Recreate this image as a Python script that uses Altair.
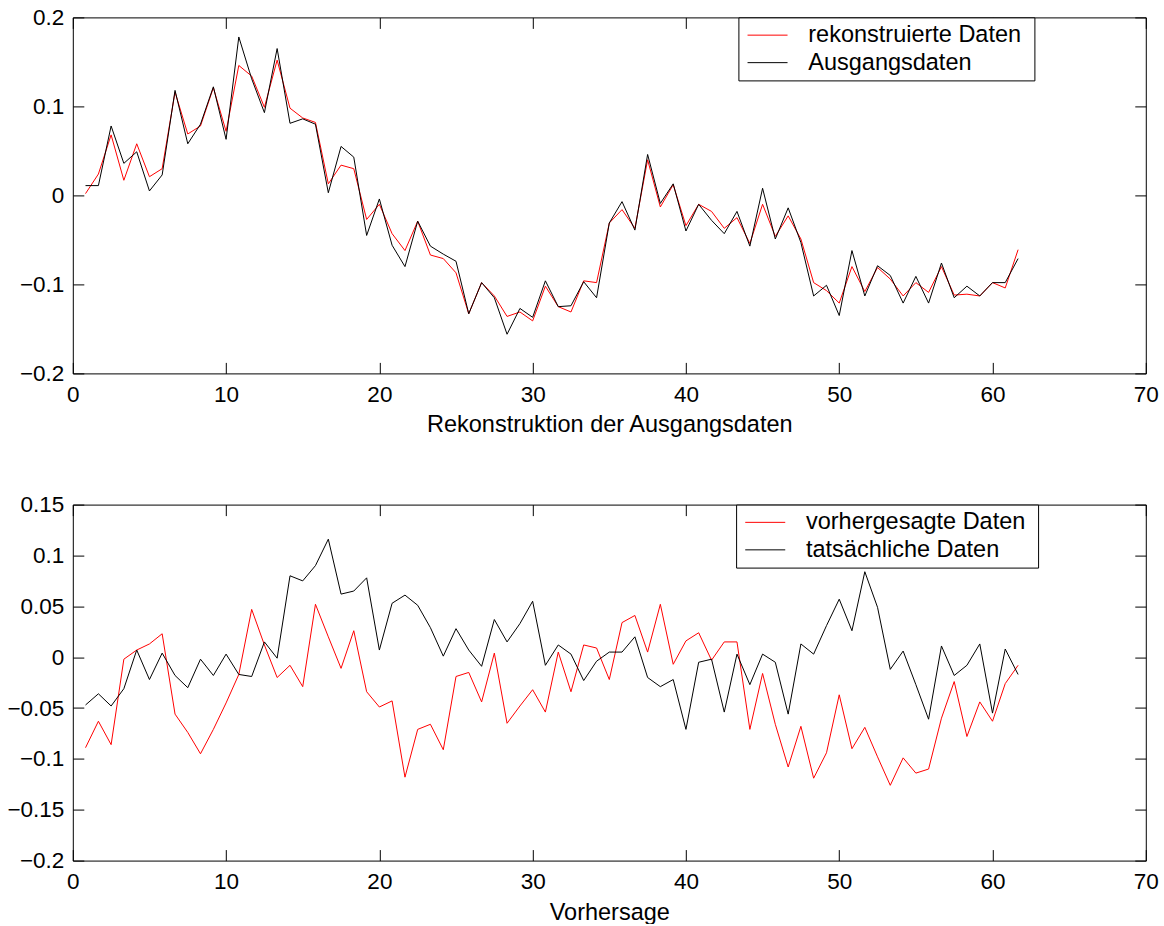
import altair as alt
import pandas as pd

FONT = "Liberation Sans"

x_vals = [0.83, 1.67, 2.5, 3.33, 4.17, 5.0, 5.83, 6.67, 7.5, 8.33,
          9.17, 10.0, 10.83, 11.67, 12.5, 13.33, 14.17, 15.0, 15.83, 16.67,
          17.5, 18.33, 19.17, 20.0, 20.83, 21.67, 22.5, 23.33, 24.17, 25.0,
          25.83, 26.67, 27.5, 28.33, 29.17, 30.0, 30.83, 31.67, 32.5, 33.33,
          34.17, 35.0, 35.83, 36.67, 37.5, 38.33, 39.17, 40.0, 40.83, 41.67,
          42.5, 43.33, 44.17, 45.0, 45.83, 46.67, 47.5, 48.33, 49.17, 50.0,
          50.83, 51.67, 52.5, 53.33, 54.17, 55.0, 55.83, 56.67, 57.5, 58.33,
          59.17, 60.0, 60.83, 61.67]

top_red = [0.002, 0.024, 0.068, 0.017, 0.058, 0.021, 0.030, 0.116, 0.069, 0.078,
           0.121, 0.072, 0.146, 0.134, 0.099, 0.152, 0.098, 0.087, 0.082, 0.013,
           0.034, 0.030, -0.027, -0.010, -0.043, -0.062, -0.029, -0.067, -0.071, -0.087,
           -0.133, -0.098, -0.113, -0.136, -0.131, -0.141, -0.102, -0.125, -0.131, -0.096,
           -0.098, -0.031, -0.016, -0.037, 0.040, -0.013, 0.012, -0.034, -0.010, -0.018,
           -0.037, -0.025, -0.054, -0.010, -0.046, -0.023, -0.049, -0.098, -0.107, -0.121,
           -0.080, -0.108, -0.081, -0.094, -0.113, -0.098, -0.109, -0.080, -0.112, -0.111,
           -0.113, -0.098, -0.104, -0.061]

top_black = [0.011, 0.011, 0.078, 0.036, 0.049, 0.005, 0.023, 0.118, 0.058, 0.080,
             0.122, 0.063, 0.178, 0.131, 0.093, 0.165, 0.081, 0.086, 0.080, 0.003,
             0.055, 0.043, -0.045, -0.004, -0.056, -0.080, -0.029, -0.057, -0.066, -0.074,
             -0.133, -0.098, -0.115, -0.156, -0.127, -0.137, -0.096, -0.125, -0.124, -0.097,
             -0.115, -0.031, -0.007, -0.039, 0.046, -0.009, 0.013, -0.040, -0.010, -0.028,
             -0.043, -0.018, -0.057, 0.008, -0.049, -0.014, -0.053, -0.113, -0.101, -0.135,
             -0.062, -0.113, -0.079, -0.090, -0.121, -0.091, -0.121, -0.076, -0.115, -0.102,
             -0.113, -0.098, -0.098, -0.071]

bot_red = [-0.089, -0.063, -0.086, -0.002, 0.007, 0.013, 0.023, -0.056, -0.074, -0.095,
           -0.071, -0.045, -0.017, 0.047, 0.012, -0.020, -0.008, -0.029, 0.052, 0.020,
           -0.011, 0.026, -0.034, -0.049, -0.043, -0.118, -0.071, -0.066, -0.091, -0.019,
           -0.015, -0.044, 0.004, -0.065, -0.048, -0.032, -0.054, 0.005, -0.034, 0.012,
           0.009, -0.022, 0.034, 0.041, 0.005, 0.052, -0.007, 0.016, 0.024, -0.003,
           0.015, 0.015, -0.071, -0.016, -0.066, -0.108, -0.068, -0.119, -0.094, -0.037,
           -0.090, -0.069, -0.098, -0.126, -0.099, -0.114, -0.110, -0.060, -0.024, -0.078,
           -0.044, -0.063, -0.026, -0.008]

bot_black = [-0.047, -0.036, -0.048, -0.031, 0.007, -0.022, 0.004, -0.018, -0.030, -0.002,
             -0.018, 0.003, -0.017, -0.019, 0.015, -0.001, 0.080, 0.075, 0.090, 0.116,
             0.062, 0.065, 0.078, 0.007, 0.053, 0.061, 0.051, 0.029, 0.001, 0.028,
             0.007, -0.009, 0.037, 0.015, 0.033, 0.055, -0.008, 0.012, 0.003, -0.023,
             -0.004, 0.005, 0.005, 0.020, -0.020, -0.029, -0.022, -0.071, -0.005, -0.002,
             -0.054, 0.003, -0.027, 0.003, -0.005, -0.056, 0.013, 0.003, 0.031, 0.057,
             0.026, 0.084, 0.049, -0.012, 0.006, -0.027, -0.061, 0.011, -0.018, -0.008,
             0.013, -0.055, 0.008, -0.017]

top_labels = ["rekonstruierte Daten", "Ausgangsdaten"]
bot_labels = ["vorhergesagte Daten", "tatsächliche Daten"]
x_ticks = [0, 10, 20, 30, 40, 50, 60, 70]
top_yticks = [-0.2, -0.1, 0, 0.1, 0.2]
bot_yticks = [-0.2, -0.15, -0.1, -0.05, 0, 0.05, 0.1, 0.15]
line_colors = ["#ff0000", "#000000"]

TICK = 11


def panel(red, black, labels, ydom, yticks, xtitle, lx, ly):
    n = len(x_vals)
    df = pd.DataFrame({
        "x": x_vals + x_vals,
        "y": red + black,
        "series": [labels[0]] * n + [labels[1]] * n,
    })
    xscale = alt.Scale(domain=[0, 70], nice=False, zero=False)
    yscale = alt.Scale(domain=ydom, nice=False, zero=False)
    main = alt.Chart(df).mark_line(strokeWidth=1).encode(
        x=alt.X("x:Q", scale=xscale,
                axis=alt.Axis(orient="bottom", values=x_ticks, format="d", title=xtitle,
                              offset=-TICK, tickSize=TICK, domain=False, grid=False,
                              labelPadding=10, titlePadding=7, labelFlush=False,
                              minExtent=0)),
        y=alt.Y("y:Q", scale=yscale,
                axis=alt.Axis(orient="left", values=yticks, format="~g", title=None,
                              offset=-TICK, tickSize=TICK, domain=False, grid=False,
                              labelPadding=9, labelFlush=False, minExtent=0)),
        color=alt.Color("series:N",
                        scale=alt.Scale(domain=labels, range=line_colors),
                        legend=alt.Legend(orient="none", legendX=lx, legendY=ly, title=None,
                                          direction="vertical", symbolType="M-2,0H2",
                                          symbolSize=400, symbolStrokeWidth=1,
                                          symbolOffset=11.4, labelOffset=29,
                                          labelFont=FONT, labelFontSize=23.5,
                                          labelColor="black", padding=6, rowPadding=2.5,
                                          strokeColor="black", fillColor="white",
                                          labelLimit=0,
                                          labelExpr="datum.label + '\u00a0\u200b'")),
    )
    frame = alt.Chart(df).mark_line(strokeOpacity=0).encode(
        x=alt.X("x:Q", scale=xscale,
                axis=alt.Axis(orient="top", values=x_ticks, labels=False, title=None,
                              offset=-TICK, tickSize=TICK, domain=False, grid=False,
                              minExtent=0, maxExtent=0)),
        y=alt.Y("y:Q", scale=yscale,
                axis=alt.Axis(orient="right", values=yticks, labels=False, title=None,
                              offset=-TICK, tickSize=TICK, domain=False, grid=False,
                              minExtent=0, maxExtent=0)),
        detail="series:N",
    )
    return alt.layer(main, frame).resolve_axis(x="independent", y="independent").properties(
        width=1073, height=356)


top = panel(top_red, top_black, top_labels, [-0.2, 0.2], top_yticks,
            "Rekonstruktion der Ausgangsdaten", 665.6, 0)
bottom = panel(bot_red, bot_black, bot_labels, [-0.2, 0.15], bot_yticks,
               "Vorhersage", 663.3, 0)

chart = alt.vconcat(top, bottom, spacing=55.2).resolve_scale(
    x="independent", y="independent", color="independent"
).properties(
    padding={"left": 5.8, "top": 5.4, "right": 0, "bottom": 0},
    background="white",
).configure_view(
    stroke="black", strokeWidth=1
).configure_axis(
    labelFont=FONT, labelFontSize=22.5, titleFont=FONT, titleFontSize=23.5,
    titleFontWeight="normal", labelColor="black", tickColor="black", titleColor="black",
    tickWidth=1
)

chart.save("out.html", embed_options={"renderer": "svg", "actions": False})
